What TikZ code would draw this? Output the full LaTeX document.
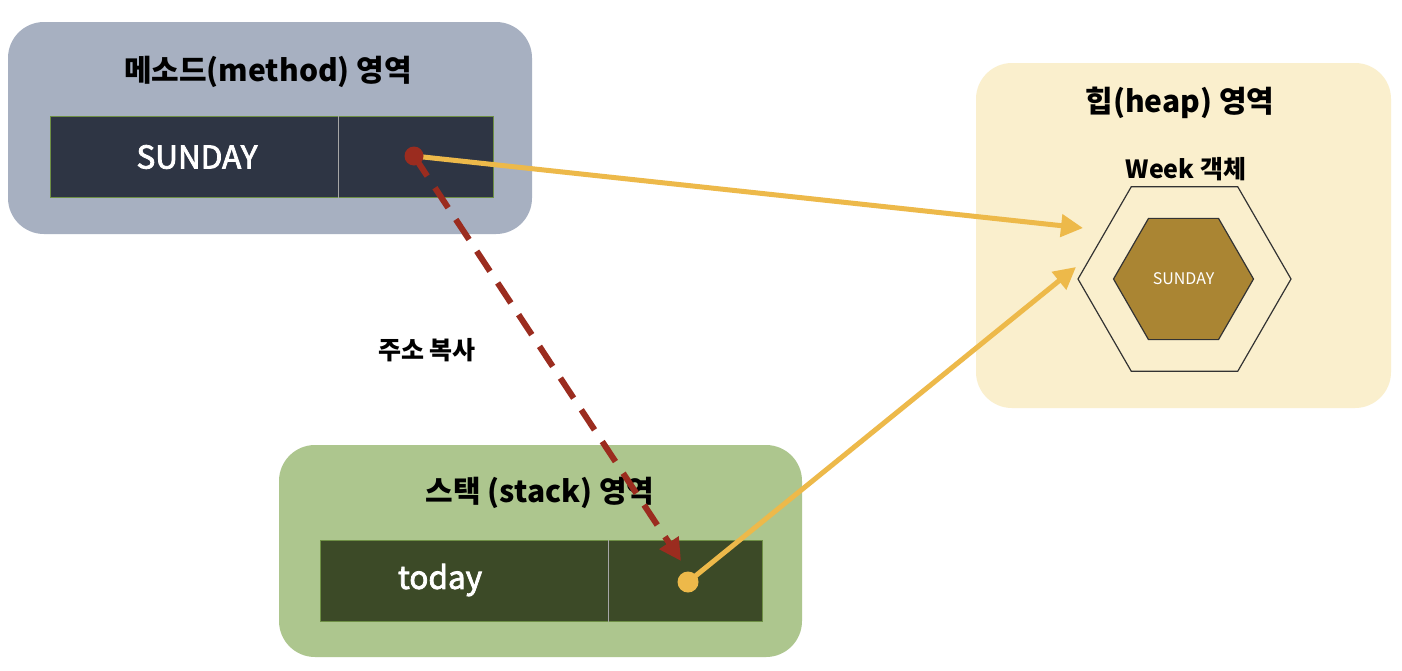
\documentclass[tikz,border=0pt]{standalone}
\usepackage{fontspec}
\setmainfont{Noto Sans CJK KR}
\newfontfamily\medfont{Noto Sans CJK KR}[FakeBold=2.5]
\usetikzlibrary{arrows.meta,shapes.geometric}
\definecolor{methodbg}{HTML}{A7B0C1}
\definecolor{methodcell}{HTML}{2E3544}
\definecolor{stackbg}{HTML}{ADC68E}
\definecolor{stackcell}{HTML}{3C4A27}
\definecolor{heapbg}{HTML}{FAEFCD}
\definecolor{objfill}{HTML}{AA8533}
\definecolor{refyellow}{HTML}{EDB94A}
\definecolor{copyred}{HTML}{9B2C1F}
\definecolor{cellborder}{HTML}{6E8F45}
\tikzset{
  area/.style={rounded corners=36pt, draw=none},
  cell/.style={draw=cellborder, line width=1pt},
  divider/.style={draw=gray!70, line width=1pt},
  title/.style={font=\fontsize{30}{33}\selectfont\bfseries, text=black},
  celltext/.style={font=\fontsize{31.5}{34}\selectfont\medfont, text=white},
  refline/.style={draw=refyellow, line width=5pt, -{Triangle[length=22pt,width=22pt]}},
  copyline/.style={draw=copyred, line width=6pt, dash pattern=on 24pt off 14pt, -{Triangle[length=22pt,width=22pt]}},
  hexbox/.style={regular polygon, regular polygon sides=6, inner sep=0pt, draw=black!80, line width=1.2pt},
}
\begin{document}
\begin{tikzpicture}[x=1pt,y=-1pt]
\fill[white] (0,0) rectangle (1402,670);
\useasboundingbox (0,0) rectangle (1402,670);
% method area
\node[area, fill=methodbg, minimum width=524pt, minimum height=212pt] (method) at (270,128) {};
\node[title] (methodtitle) at (268,72) {메소드(method) 영역};
\node[cell, fill=methodcell, minimum width=288pt, minimum height=81pt, inner sep=0pt] (mname) at (194,156.5) {};
\node[cell, fill=methodcell, minimum width=155pt, minimum height=81pt, inner sep=0pt] (mref) at (415.5,156.5) {};
\draw[divider] (mname.north east) -- (mname.south east);
\node[celltext] (mtext) at (197,157) {SUNDAY};
% heap area
\node[area, fill=heapbg, minimum width=415pt, minimum height=345pt] (heap) at (1183.5,235.5) {};
\node[title] (heaptitle) at (1180,103) {힙(heap) 영역};
\node[font=\fontsize{25}{28}\selectfont\bfseries] (weektitle) at (1186,169) {Week 객체};
\node[hexbox, minimum size=213pt] (outerhex) at (1184.5,279) {};
\node[hexbox, fill=objfill, minimum size=140pt, text=white, font=\fontsize{16}{18}\selectfont] (innerhex) at (1183.5,279) {SUNDAY};
% stack area
\node[area, fill=stackbg, minimum width=523pt, minimum height=212pt] (stack) at (540.5,551) {};
\node[title] (stacktitle) at (540,493) {스택 (stack) 영역};
\node[cell, fill=stackcell, minimum width=288pt, minimum height=81pt, inner sep=0pt] (sname) at (464,580.5) {};
\node[cell, fill=stackcell, minimum width=154pt, minimum height=81pt, inner sep=0pt] (sref) at (685,580.5) {};
\draw[divider] (sname.north east) -- (sname.south east);
\node[celltext] (stext) at (440,580) {today};
% label
\node[font=\fontsize{25}{28}\selectfont\bfseries] (copylabel) at (427,350) {주소 복사};
% connectors
\coordinate (mdot) at (414,156);
\coordinate (sdot) at (688,582);
\coordinate (tipA) at (1083,228);
\coordinate (tipB) at (1076,267);
\coordinate (tipC) at (681,561);
\draw[copyline] (mdot) -- (tipC);
\draw[refline] (mdot) -- (tipA);
\draw[refline] (sdot) -- (tipB);
\fill[copyred] (mdot) circle (9.5pt);
\fill[refyellow] (sdot) circle (10.5pt);
\end{tikzpicture}
\end{document}
